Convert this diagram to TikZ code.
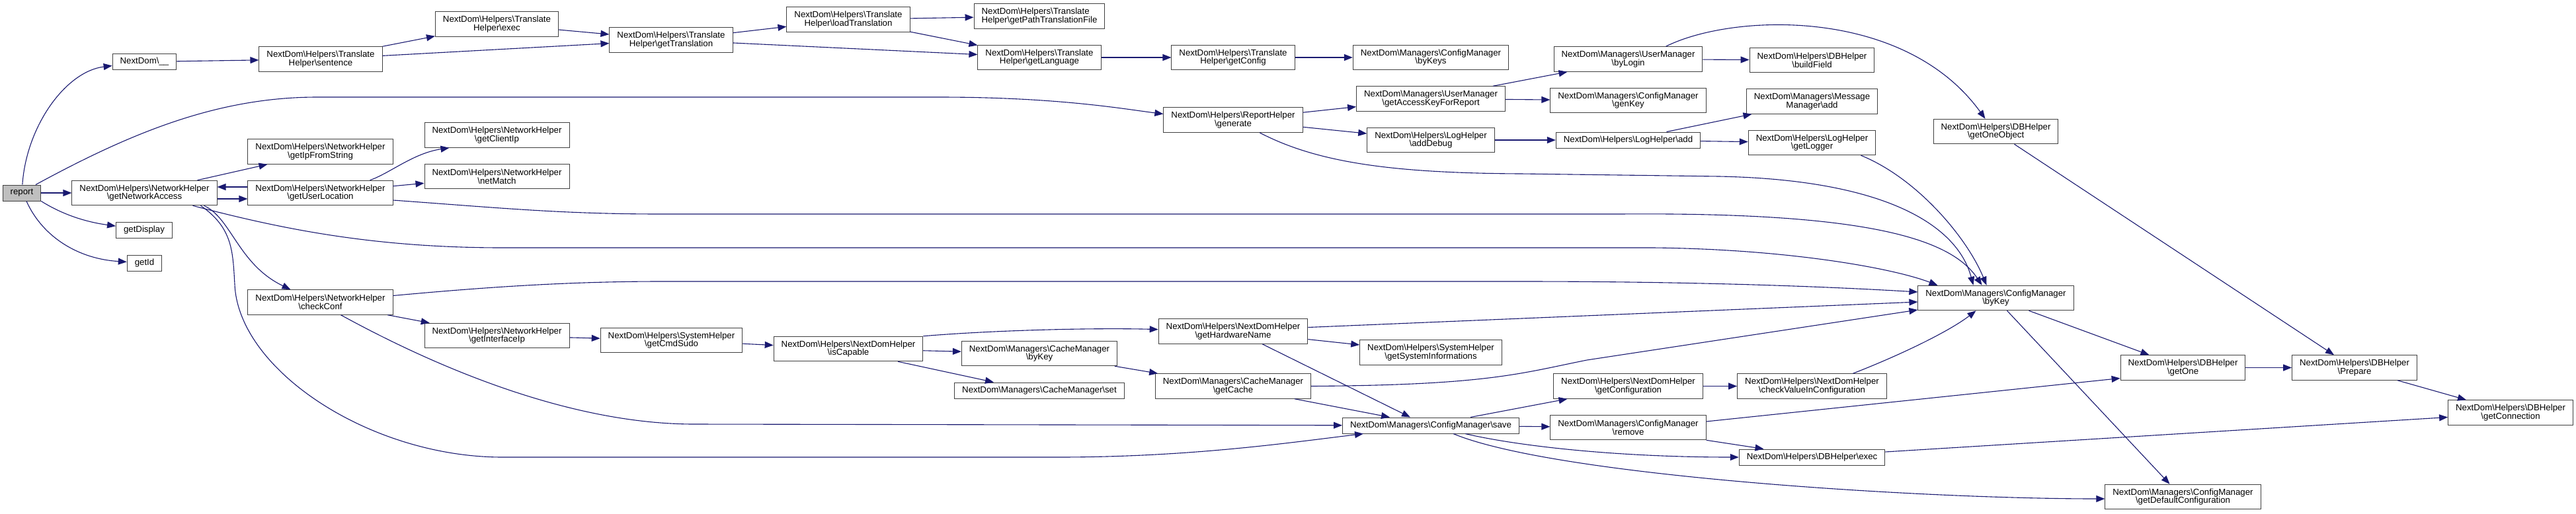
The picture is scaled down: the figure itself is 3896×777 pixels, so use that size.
\documentclass[tikz,border=0pt]{standalone}
\usepackage{fontspec}
\setmainfont{Liberation Sans}
\usepackage{xcolor}
\usetikzlibrary{arrows.meta}
\definecolor{edgeblue}{HTML}{191970}
\definecolor{curgray}{HTML}{BFBFBF}
\newcommand{\bks}{\textbackslash}

\begin{document}
\begin{tikzpicture}[
  x=1pt, y=-1pt,
  font=\fontsize{13.26}{12.7}\selectfont,
  fn/.style={draw=black!75, line width=1pt, fill=white, align=center,
             inner xsep=11.5pt, inner ysep=0pt, minimum height=37.5pt},
  fnone/.style={fn, minimum height=24pt},
  cur/.style={fnone, fill=curgray},
  call/.style={draw=edgeblue, line width=1.1pt, -{Triangle[length=13pt,width=10pt]}},
]
  \useasboundingbox (0,0) rectangle (3896,777);
  % CALLER
  \node[cur] (report) at (33,292) {report};
  % TRANSLATE
  \node[fnone] (nd-under) at (218.5,93.5) {NextDom\bks\_\_};
  \node[fn] (tr-sentence) at (485,89.5) {NextDom\bks Helpers\bks Translate\\Helper\bks sentence};
  \node[fn] (tr-exec) at (751.5,36.5) {NextDom\bks Helpers\bks Translate\\Helper\bks exec};
  \node[fn] (tr-gettrans) at (1015,60.5) {NextDom\bks Helpers\bks Translate\\Helper\bks getTranslation};
  \node[fn] (tr-load) at (1283,29.5) {NextDom\bks Helpers\bks Translate\\Helper\bks loadTranslation};
  \node[fn, align=left] (tr-path) at (1572,24.5) {NextDom\bks Helpers\bks Translate\\Helper\bks getPathTranslationFile};
  \node[fn] (tr-language) at (1572,87) {NextDom\bks Helpers\bks Translate\\Helper\bks getLanguage};
  \node[fn] (tr-config) at (1865,87) {NextDom\bks Helpers\bks Translate\\Helper\bks getConfig};
  \node[fn] (cm-bykeys) at (2164,87) {NextDom\bks Managers\bks ConfigManager\\\bks byKeys};
  % REPORT HELPER
  \node[fn] (rh-generate) at (1865,181.5) {NextDom\bks Helpers\bks ReportHelper\\\bks generate};
  \node[fn] (um-getaccess) at (2164,149.5) {NextDom\bks Managers\bks UserManager\\\bks getAccessKeyForReport};
  \node[fn] (um-bylogin) at (2462.5,89.5) {NextDom\bks Managers\bks UserManager\\\bks byLogin};
  \node[fn] (db-buildfield) at (2740.5,91) {NextDom\bks Helpers\bks DBHelper\\\bks buildField};
  \node[fn] (cm-genkey) at (2462.5,152) {NextDom\bks Managers\bks ConfigManager\\\bks genKey};
  \node[fn] (lh-adddebug) at (2164,212) {NextDom\bks Helpers\bks LogHelper\\\bks addDebug};
  \node[fnone] (lh-add) at (2462.5,212) {NextDom\bks Helpers\bks LogHelper\bks add};
  \node[fn] (mm-add) at (2740.5,153.5) {NextDom\bks Managers\bks Message\\Manager\bks add};
  \node[fn] (lh-getlogger) at (2740.5,216) {NextDom\bks Helpers\bks LogHelper\\\bks getLogger};
  \node[fn] (db-getoneobj) at (3018.5,199) {NextDom\bks Helpers\bks DBHelper\\\bks getOneObject};
  % NETWORK
  \node[fn] (nw-access) at (218.5,292) {NextDom\bks Helpers\bks NetworkHelper\\\bks getNetworkAccess};
  \node[fn] (nw-ipfromstr) at (484.5,229.5) {NextDom\bks Helpers\bks NetworkHelper\\\bks getIpFromString};
  \node[fn] (nw-userloc) at (484.5,292) {NextDom\bks Helpers\bks NetworkHelper\\\bks getUserLocation};
  \node[fn] (nw-clientip) at (751.5,204.5) {NextDom\bks Helpers\bks NetworkHelper\\\bks getClientIp};
  \node[fn] (nw-netmatch) at (751.5,267) {NextDom\bks Helpers\bks NetworkHelper\\\bks netMatch};
  \node[fnone] (getdisplay) at (218,348) {getDisplay};
  \node[fnone] (getid) at (218.5,398) {getId};
  \node[fn] (nw-checkconf) at (484.5,457.5) {NextDom\bks Helpers\bks NetworkHelper\\\bks checkConf};
  \node[fn] (nw-ifaceip) at (751.5,508) {NextDom\bks Helpers\bks NetworkHelper\\\bks getInterfaceIp};
  \node[fn] (sh-cmdsudo) at (1015.5,515) {NextDom\bks Helpers\bks SystemHelper\\\bks getCmdSudo};
  \node[fn] (nd-iscapable) at (1283,528) {NextDom\bks Helpers\bks NextDomHelper\\\bks isCapable};
  \node[fn] (cache-bykey) at (1572,535) {NextDom\bks Managers\bks CacheManager\\\bks byKey};
  \node[fnone] (cache-set) at (1572,591) {NextDom\bks Managers\bks CacheManager\bks set};
  \node[fn] (nd-hwname) at (1865,501.5) {NextDom\bks Helpers\bks NextDomHelper\\\bks getHardwareName};
  \node[fn] (sh-sysinfo) at (2164,533.5) {NextDom\bks Helpers\bks SystemHelper\\\bks getSystemInformations};
  \node[fn] (cache-get) at (1865,584.5) {NextDom\bks Managers\bks CacheManager\\\bks getCache};
  % CONFIG / DB
  \node[fnone] (cm-save) at (2164,644) {NextDom\bks Managers\bks ConfigManager\bks save};
  \node[fn] (nd-getconf) at (2462.5,584.5) {NextDom\bks Helpers\bks NextDomHelper\\\bks getConfiguration};
  \node[fn] (cm-remove) at (2462.5,647) {NextDom\bks Managers\bks ConfigManager\\\bks remove};
  \node[fn] (cm-bykey) at (3018.5,451) {NextDom\bks Managers\bks ConfigManager\\\bks byKey};
  \node[fn] (nd-checkval) at (2740.5,584.5) {NextDom\bks Helpers\bks NextDomHelper\\\bks checkValueInConfiguration};
  \node[fnone] (db-exec) at (2740.5,692) {NextDom\bks Helpers\bks DBHelper\bks exec};
  \node[fn] (db-getone) at (3301.5,556.5) {NextDom\bks Helpers\bks DBHelper\\\bks getOne};
  \node[fn] (cm-getdefault) at (3301.5,752) {NextDom\bks Managers\bks ConfigManager\\\bks getDefaultConfiguration};
  \node[fn] (db-prepare) at (3561,556.5) {NextDom\bks Helpers\bks DBHelper\\\bks Prepare};
  \node[fn] (db-conn) at (3797,624.5) {NextDom\bks Helpers\bks DBHelper\\\bks getConnection};

  % calls from report
  \draw[call] (report) .. controls (40,190) and (100,108) .. (nd-under);
  \draw[call] ([xshift=21pt]report.north) .. controls (200,200) and (330,147) .. (480,147) -- (1420,147) .. controls (1600,147) and (1700,165) .. ([yshift=9pt]rh-generate.west);
  \draw[call] (report) -- (nw-access);
  \draw[call] (report.south east) .. controls (95,325) and (130,336) .. (getdisplay);
  \draw[call] ([xshift=7pt]report.south) .. controls (65,360) and (120,392) .. (getid);
  % translate
  \draw[call] (nd-under) -- (tr-sentence);
  \draw[call] (tr-sentence.north east) -- (tr-exec);
  \draw[call] (tr-sentence) -- (tr-gettrans);
  \draw[call] (tr-exec) -- (tr-gettrans);
  \draw[call] (tr-gettrans) -- (tr-load);
  \draw[call] (tr-gettrans) -- (tr-language);
  \draw[call] (tr-load) -- (tr-path);
  \draw[call] (tr-load) -- (tr-language);
  \draw[call] (tr-language) -- (tr-config);
  \draw[call] (tr-config) -- (cm-bykeys);
  % report helper
  \draw[call] (rh-generate) -- (um-getaccess);
  \draw[call] (rh-generate) -- (lh-adddebug);
  \draw[call] ([xshift=40pt]rh-generate.south) .. controls (1990,245) and (2100,262) .. (2300,263) -- (2600,267) .. controls (2850,272) and (2960,340) .. ([xshift=-34pt]cm-bykey.north);
  \draw[call] ([xshift=94pt]um-getaccess.north) -- ([xshift=-92pt]um-bylogin.south);
  \draw[call] (um-getaccess) -- (cm-genkey);
  \draw[call] (lh-adddebug) -- (lh-add);
  \draw[call] (um-bylogin) -- (db-buildfield);
  \draw[call] ([xshift=57pt]um-bylogin.north) .. controls (2620,20) and (2880,10) .. ([xshift=-16pt]db-getoneobj.north);
  \draw[call] ([xshift=58pt]lh-add.north) -- ([xshift=-91pt]mm-add.south);
  \draw[call] (lh-add) -- (lh-getlogger);
  \draw[call] ([xshift=74pt]lh-getlogger.south) .. controls (2900,270) and (2975,360) .. ([xshift=-14pt]cm-bykey.north);
  \draw[call] ([xshift=28pt]db-getoneobj.south) -- ([xshift=-31pt]db-prepare.north);
  % network
  \draw[call] ([xshift=80pt]nw-access.north) -- ([xshift=-80pt]nw-ipfromstr.south);
  \draw[call] ([yshift=-9pt]nw-access.east) -- ([yshift=-9pt]nw-userloc.west);
  \draw[call] ([yshift=9pt]nw-userloc.west) -- ([yshift=9pt]nw-access.east);
  \draw[call] ([xshift=90pt]nw-access.south) .. controls (350,330) and (360,400) .. ([xshift=-45pt]nw-checkconf.north);
  \draw[call] ([xshift=85pt]nw-access.south) .. controls (352,345) and (352,380) .. (355,430) .. controls (360,560) and (560,692) .. (760,692) -- (1600,692) .. controls (1800,692) and (1950,670) .. ([xshift=-102pt]cm-save.south);
  \draw[call] ([xshift=73pt]nw-access.south) .. controls (420,345) and (560,375) .. (760,375) -- (2500,375) .. controls (2700,377) and (2860,405) .. ([xshift=-88pt]cm-bykey.north);
  \draw[call] ([xshift=75pt]nw-userloc.north) .. controls (590,262) and (625,232) .. ([xshift=-72pt]nw-clientip.south);
  \draw[call] (nw-userloc) -- (nw-netmatch);
  \draw[call] ([yshift=-11pt]nw-userloc.east) .. controls (760,315) and (850,324) .. (1000,324) -- (2450,324) .. controls (2820,321) and (2950,360) .. ([xshift=-21pt]cm-bykey.north);
  % checkConf
  \draw[call] (nw-checkconf) -- (nw-ifaceip);
  \draw[call] ([yshift=10pt]nw-checkconf.east) .. controls (720,436) and (850,426) .. (1000,426) -- (2300,426) .. controls (2600,426) and (2800,436) .. ([yshift=9pt]cm-bykey.west);
  \draw[call] ([xshift=31pt]nw-checkconf.south) .. controls (640,545) and (850,642) .. (1050,642) -- (cm-save);
  \draw[call] (nw-ifaceip) -- (sh-cmdsudo);
  \draw[call] (sh-cmdsudo) -- (nd-iscapable);
  \draw[call] (nd-iscapable.north east) .. controls (1500,500) and (1650,496) .. (nd-hwname);
  \draw[call] (nd-iscapable) -- (cache-bykey);
  \draw[call] ([xshift=75pt]nd-iscapable.south) -- ([xshift=-69pt]cache-set.north);
  \draw[call] (cache-bykey) -- (cache-get);
  \draw[call] (nd-hwname) -- (sh-sysinfo);
  \draw[call] ([yshift=6pt]nd-hwname.east) -- ([yshift=-6pt]cm-bykey.west);
  \draw[call] ([xshift=44pt]nd-hwname.south) -- ([xshift=-31pt]cm-save.north);
  \draw[call] (cache-get.east) .. controls (2250,583) and (2300,565) .. (2400,545) -- ([yshift=-18pt]cm-bykey.west);
  \draw[call] ([xshift=93pt]cache-get.south) -- ([xshift=-62pt]cm-save.north);
  % config manager
  \draw[call] ([xshift=60pt]cm-save.north) -- ([xshift=-92pt]nd-getconf.south);
  \draw[call] (cm-save) -- (cm-remove);
  \draw[call] ([xshift=52pt]cm-save.south) .. controls (2300,676) and (2450,692) .. (db-exec);
  \draw[call] ([xshift=34pt]cm-save.south) .. controls (2350,720) and (2900,755) .. ([yshift=-3pt]cm-getdefault.west);
  \draw[call] (nd-getconf) -- (nd-checkval);
  \draw[call] ([yshift=9pt]cm-remove.east) -- ([yshift=-16pt]db-getone.west);
  \draw[call] (cm-remove.south east) -- ([xshift=-73pt]db-exec.north);
  \draw[call] ([xshift=62pt]nd-checkval.north) .. controls (2880,535) and (2950,500) .. ([xshift=-30pt]cm-bykey.south);
  \draw[call] ([xshift=50pt]cm-bykey.south) -- ([xshift=-51pt]db-getone.north);
  \draw[call] ([xshift=17pt]cm-bykey.south) -- ([xshift=-20pt]cm-getdefault.north);
  \draw[call] ([yshift=8pt]db-exec.east) -- ([yshift=-7pt]db-conn.west);
  \draw[call] (db-getone) -- (db-prepare);
  \draw[call] ([xshift=65pt]db-prepare.south) -- ([xshift=-67pt]db-conn.north);
\end{tikzpicture}
\end{document}
